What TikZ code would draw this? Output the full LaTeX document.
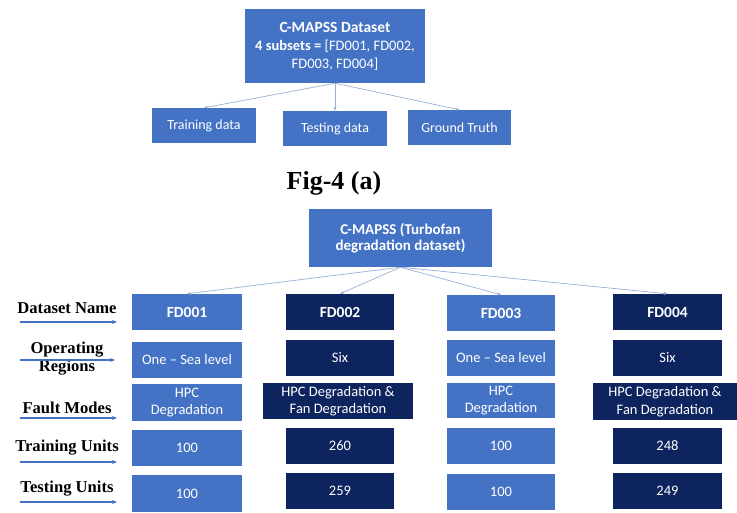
\documentclass[tikz,border=0pt]{standalone}
\usepackage{fontspec}
\setmainfont{Carlito}
\newfontfamily\labelfont{Liberation Serif}
\usetikzlibrary{arrows.meta}

\definecolor{lightbox}{RGB}{68,114,196}
\definecolor{darkbox}{RGB}{14,36,94}
\definecolor{linkcol}{RGB}{150,175,215}

\tikzset{
  box/.style = {fill = lightbox, text = white, align = center, inner sep = 1pt,
                font = \fontsize{14.5}{17.5}\selectfont},
  navy/.style = {box, fill = darkbox},
  fdfont/.style = {font = \bfseries\fontsize{15.5}{17}\selectfont},
  link/.style = {draw = linkcol, line width = 0.7pt, -{Stealth[length=4pt, width=3pt]}},
  rowlabel/.style = {align = center, font = \labelfont\bfseries\fontsize{16.6}{18}\selectfont},
  rowarrow/.style = {draw = lightbox, line width = 1.1pt, -{Stealth[length=5pt, width=4pt]}}
}

\begin{document}
\begin{tikzpicture}[x = 1pt, y = -1pt]
\useasboundingbox (0, 0) rectangle (737, 512);

% upper tree
\node[box, minimum width = 180, minimum height = 74, font = \fontsize{14.5}{18}\selectfont] (cmapss) at (335, 46)
  {{\fontsize{15.5}{18}\selectfont\bfseries C-MAPSS Dataset}\\\textbf{4 subsets =} [FD001, FD002,\\FD003, FD004]};
\node[box, minimum width = 104, minimum height = 35, font = \fontsize{14}{16}\selectfont] (train) at (204, 125.5) {Training data};
\node[box, minimum width = 104, minimum height = 35, font = \fontsize{14}{16}\selectfont] (test) at (335, 128.5) {Testing data};
\node[box, minimum width = 103, minimum height = 35, font = \fontsize{14}{16}\selectfont] (truth) at (459.5, 127.5) {Ground Truth};
\draw[link] (cmapss.south) -- (train.north);
\draw[link] (cmapss.south) -- (test.north);
\draw[link] (cmapss.south) -- (truth.north);

\node[font = \labelfont\bfseries\fontsize{26}{28}\selectfont] (fig) at (334, 183) {Fig-4 (a)};

% lower tree
\node[box, minimum width = 183, minimum height = 58, font = \bfseries\fontsize{15}{16.5}\selectfont] (turbo) at (400.5, 238)
  {C-MAPSS (Turbofan\\degradation dataset)};

% dataset names
\node[box, fdfont, minimum width = 110, minimum height = 36] (fdA) at (187, 312) {FD001};
\node[navy, fdfont, minimum width = 108, minimum height = 36] (fdB) at (340, 312) {FD002};
\node[box, fdfont, minimum width = 108, minimum height = 36] (fdC) at (501, 313) {FD003};
\node[navy, fdfont, minimum width = 109, minimum height = 36] (fdD) at (667.5, 312) {FD004};
\draw[link] (turbo.south) -- (fdA.north);
\draw[link] (turbo.south) -- (fdB.north);
\draw[link] (turbo.south) -- (fdC.north);
\draw[link] (turbo.south) -- (fdD.north);

% operating regions
\node[box, minimum width = 110, minimum height = 36] (opA) at (187, 360) {One -- Sea level};
\node[navy, minimum width = 108, minimum height = 36] (opB) at (340, 358) {Six};
\node[box, minimum width = 108, minimum height = 36] (opC) at (501, 358) {One -- Sea level};
\node[navy, minimum width = 109, minimum height = 36] (opD) at (667.5, 358) {Six};

% fault modes
\node[box, minimum width = 110, minimum height = 37] (fmA) at (187, 402.5) {HPC\\Degradation};
\node[navy, minimum width = 150, minimum height = 36] (fmB) at (338, 401) {HPC Degradation \&\\Fan Degradation};
\node[box, minimum width = 108, minimum height = 35] (fmC) at (501, 400.5) {HPC\\Degradation};
\node[navy, minimum width = 144, minimum height = 37] (fmD) at (665, 401.5) {HPC Degradation \&\\Fan Degradation};

% training units
\node[box, minimum width = 110, minimum height = 36] (trA) at (187, 448) {100};
\node[navy, minimum width = 108, minimum height = 36] (trB) at (340, 446) {260};
\node[box, minimum width = 108, minimum height = 36] (trC) at (501, 446) {100};
\node[navy, minimum width = 109, minimum height = 36] (trD) at (667.5, 446) {248};

% testing units
\node[box, minimum width = 110, minimum height = 37] (tsA) at (187, 493.5) {100};
\node[navy, minimum width = 108, minimum height = 36] (tsB) at (340, 491) {259};
\node[box, minimum width = 108, minimum height = 36] (tsC) at (501, 492) {100};
\node[navy, minimum width = 109, minimum height = 36] (tsD) at (667.5, 491) {249};

% row labels
\node[rowlabel] (nameLab) at (67, 308) {Dataset Name};
\node[rowlabel] (opLab) at (67, 359) {Operating\\Regions};
\node[rowlabel] (faultLab) at (67, 408) {Fault Modes};
\node[rowlabel] (trainLab) at (67, 448) {Training Units};
\node[rowlabel] (testLab) at (67, 489) {Testing Units};

\coordinate (nameS) at (20, 322);   \coordinate (nameE) at (117, 322);
\coordinate (opS) at (20, 360);     \coordinate (opE) at (115, 360);
\coordinate (faultS) at (20, 418);  \coordinate (faultE) at (117, 418);
\coordinate (trainS) at (20, 462);  \coordinate (trainE) at (117, 462);
\coordinate (testS) at (20, 502);   \coordinate (testE) at (117, 502);
\draw[rowarrow] (nameS) -- (nameE);
\draw[rowarrow] (opS) -- (opE);
\draw[rowarrow] (faultS) -- (faultE);
\draw[rowarrow] (trainS) -- (trainE);
\draw[rowarrow] (testS) -- (testE);
\end{tikzpicture}
\end{document}
